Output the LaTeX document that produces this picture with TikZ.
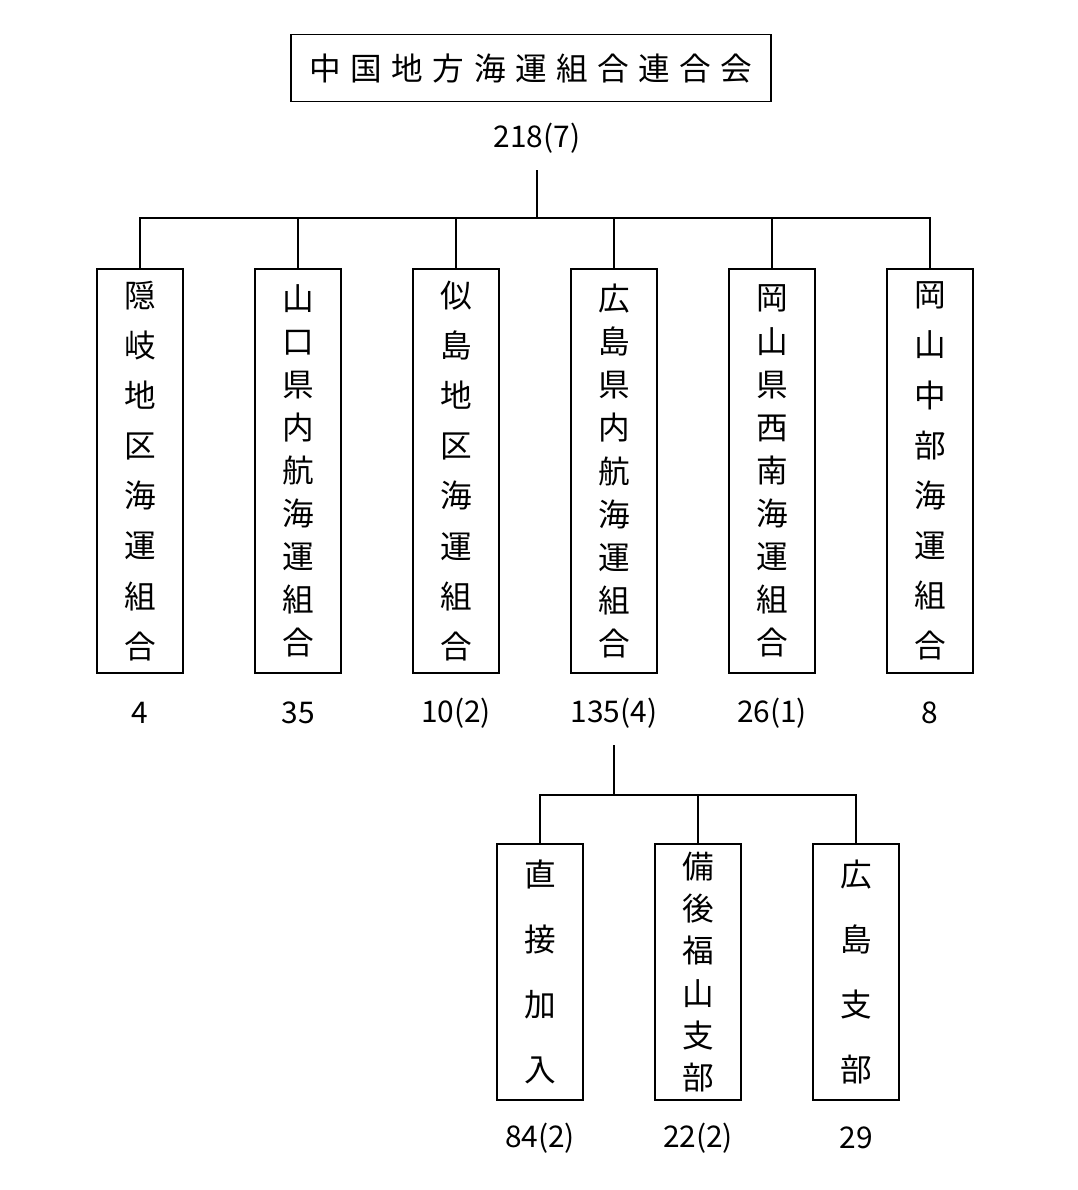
\documentclass[tikz,border=0pt]{standalone}
\usepackage{fontspec}
\setmainfont{Noto Sans CJK JP}
\newfontfamily\jpwide{Noto Sans CJK JP}[LetterSpace=30]
\usetikzlibrary{positioning}
\tikzset{
  unit/.style={draw, line width=1.1pt, minimum width=1.72cm, inner sep=0pt, align=center},
  tall/.style={unit, minimum height=8.08cm},
  short/.style={unit, minimum height=5.12cm},
  count/.style={font=\fontsize{17}{20}\selectfont, inner sep=0pt},
  link/.style={line width=1.1pt}
}
\begin{document}
\begin{tikzpicture}[x=0.02cm, y=-0.02cm]
  \useasboundingbox (0,0) rectangle (1078,1190);
  % Top
  \node[draw, line width=1.1pt, minimum width=9.62cm, minimum height=1.34cm,
        font=\jpwide\fontsize{18}{20}\selectfont] (top) at (531,68) {中国地方海運組合連合会};
  \node[count] (ntop) at (537,138) {218(7)};
  \coordinate (ctop) at (537,170);
  \coordinate (jtop) at (537,218);
  \draw[link] (ctop) -- (jtop);

  % First level
  \node[tall, font=\fontsize{18}{28.5}\selectfont] (oki) at (140,471) {隠\\岐\\地\\区\\海\\運\\組\\合};
  \node[tall, font=\fontsize{18}{24.5}\selectfont] (yam) at (298,471) {山\\口\\県\\内\\航\\海\\運\\組\\合};
  \node[tall, font=\fontsize{18}{28.5}\selectfont] (nis) at (456,471) {似\\島\\地\\区\\海\\運\\組\\合};
  \node[tall, font=\fontsize{18}{24.5}\selectfont] (hir) at (614,471) {広\\島\\県\\内\\航\\海\\運\\組\\合};
  \node[tall, font=\fontsize{18}{24.5}\selectfont] (oks) at (772,471) {岡\\山\\県\\西\\南\\海\\運\\組\\合};
  \node[tall, font=\fontsize{18}{28.5}\selectfont] (okc) at (930,471) {岡\\山\\中\\部\\海\\運\\組\\合};
  \foreach \b in {oki,yam,nis,hir,oks,okc}
    \draw[link] (jtop) -| (\b.north);

  \node[count] (noki) at (140,713) {4};
  \node[count] (nyam) at (298,713) {35};
  \node[count] (nnis) at (456,713) {10(2)};
  \node[count] (nhir) at (614,713) {135(4)};
  \node[count] (noks) at (772,713) {26(1)};
  \node[count] (nokc) at (930,713) {8};

  % Second level
  \coordinate (chir) at (614,745);
  \coordinate (jhir) at (614,795);
  \draw[link] (chir) -- (jhir);
  \node[short, font=\fontsize{18}{37}\selectfont] (cho) at (540,972) {直\\接\\加\\入};
  \node[short, font=\fontsize{18}{24}\selectfont] (bin) at (698,972) {備\\後\\福\\山\\支\\部};
  \node[short, font=\fontsize{18}{37}\selectfont] (hsb) at (856,972) {広\\島\\支\\部};
  \foreach \b in {cho,bin,hsb}
    \draw[link] (jhir) -| (\b.north);

  \node[count] (ncho) at (540,1138) {84(2)};
  \node[count] (nbin) at (698,1138) {22(2)};
  \node[count] (nhsb) at (856,1138) {29};
\end{tikzpicture}
\end{document}
